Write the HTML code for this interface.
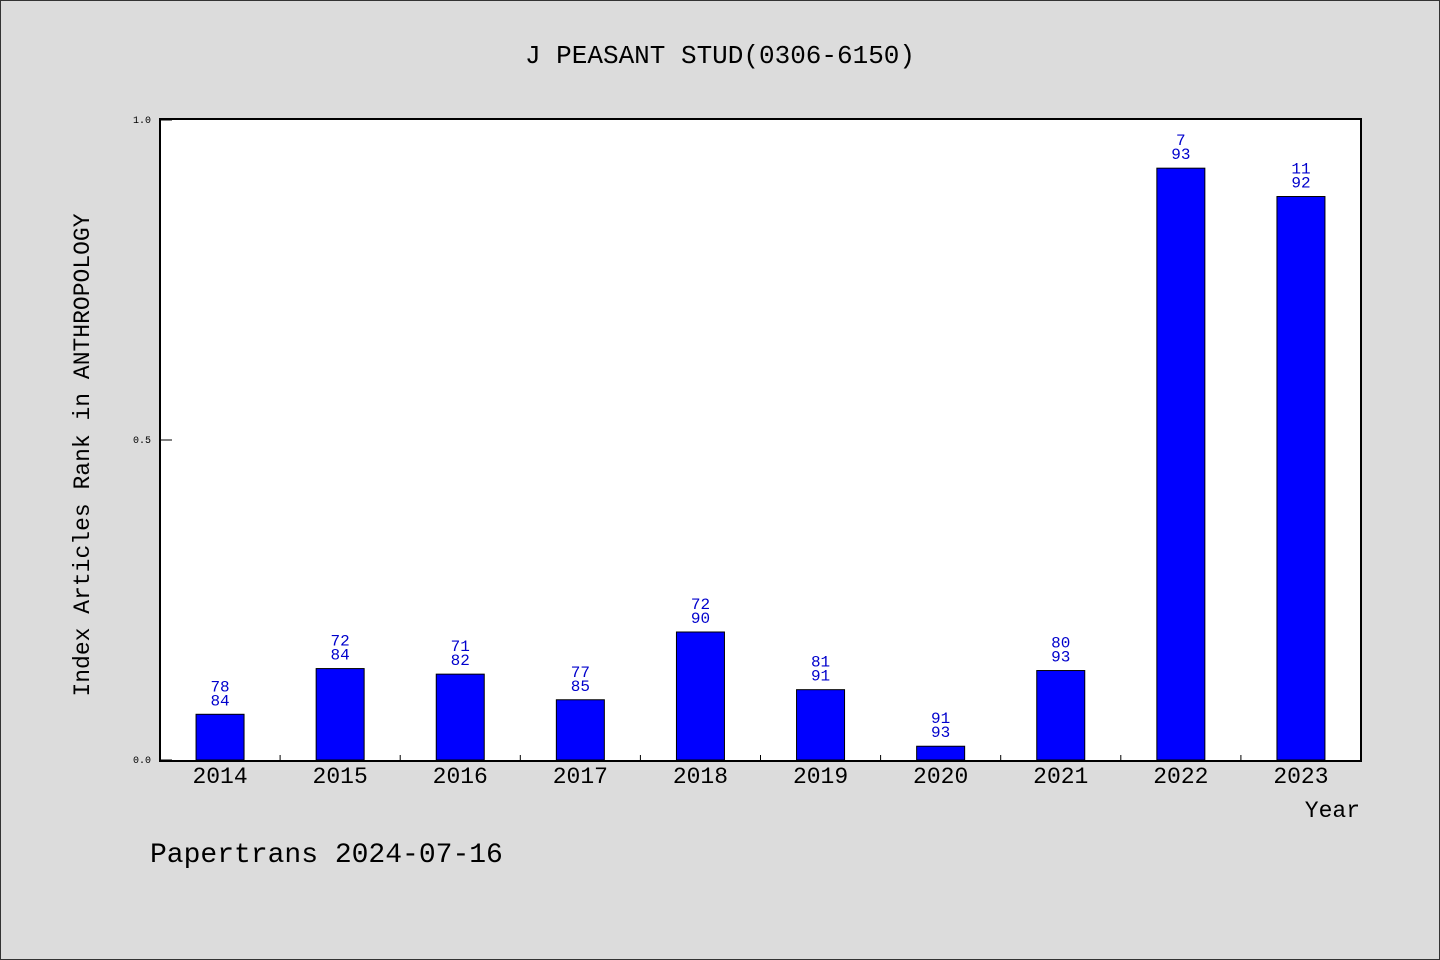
<!DOCTYPE html>
<html><head><meta charset="utf-8"><style>
body{margin:0;background:#dcdcdc}
svg{display:block;font-family:"WenQuanYi Zen Hei","Liberation Mono",monospace}
</style></head><body>
<svg id="chart" width="1440" height="960" xmlns="http://www.w3.org/2000/svg">
<rect x="0.5" y="0.5" width="1439" height="959" fill="#dcdcdc" stroke="#333"/>
<text x="720" y="63" text-anchor="middle" font-size="26">J PEASANT STUD(0306-6150)</text>
<rect x="160" y="119" width="1201" height="642" fill="#fff" stroke="#000" stroke-width="2"/>
<g id="bars"></g>
<g id="axes"></g>
<text transform="translate(89,455) rotate(-90)" text-anchor="middle" font-size="23">Index Articles Rank in ANTHROPOLOGY</text>
<text x="1360" y="817" text-anchor="end" font-size="23">Year</text>
<text x="150" y="862" font-size="28">Papertrans 2024-07-16</text>
</svg>
<script>
const years=["2014","2015","2016","2017","2018","2019","2020","2021","2022","2023"];
const ranks=[78,72,71,77,72,81,91,80,7,11];
const totals=[84,84,82,85,90,91,93,93,93,92];
const yTicks=[0,0.5,1];
const yTickLabels=["0.0","0.5","1.0"];
const NS="http://www.w3.org/2000/svg";
const L=160,R=1361,T=120,B=760;
const xs=i=>L+(R-L)/years.length*(i+0.5);
const ys=v=>B-(B-T)*v;
function mk(tag,attrs,parent,txt){const e=document.createElementNS(NS,tag);for(const k in attrs)e.setAttribute(k,attrs[k]);if(txt!==undefined)e.textContent=txt;parent.appendChild(e);return e;}
const bars=document.getElementById('bars'),axes=document.getElementById('axes');
years.forEach((y,i)=>{
  const v=(totals[i]-ranks[i])/totals[i];
  const cx=xs(i);
  const r=mk('rect',{x:cx-24,y:ys(v),width:48,height:B-ys(v),fill:'#0000ff',stroke:'#000','stroke-width':1},bars);
  
  
  const t1=mk('text',{x:cx,y:ys(v)-23,'text-anchor':'middle','font-size':16,fill:'#0000cc'},bars,ranks[i]);
  
  
  const t2=mk('text',{x:cx,y:ys(v)-9,'text-anchor':'middle','font-size':16,fill:'#0000cc'},bars,totals[i]);
  
  
  const xl=mk('text',{x:cx,y:783,'text-anchor':'middle','font-size':23},axes,y);
  
  
  if(i>0){const tk=mk('line',{x1:L+(R-L)/years.length*i,x2:L+(R-L)/years.length*i,y1:B,y2:B-5,stroke:'#000'},axes);
  
  }
});
yTicks.forEach((v,i)=>{
  const tk=mk('line',{x1:L,x2:L+12,y1:ys(v),y2:ys(v),stroke:'#000'},axes);
  
  
  const tl=mk('text',{x:151,y:ys(v)+3,'text-anchor':'end','font-size':10},axes,yTickLabels[i]);
  
  
});
</script>
</body></html>
